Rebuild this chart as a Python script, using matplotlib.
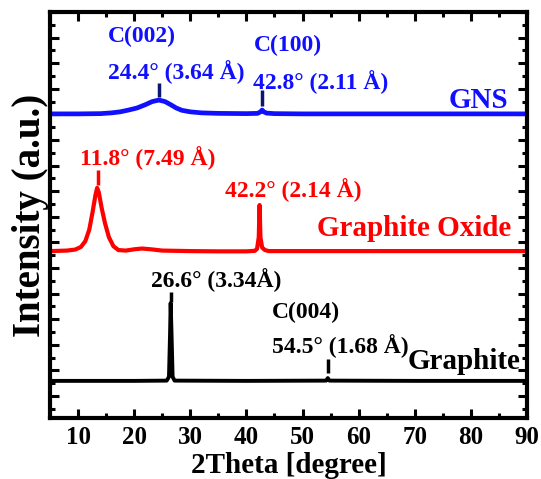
import matplotlib
matplotlib.use("Agg")
import matplotlib.pyplot as plt
from matplotlib.ticker import MultipleLocator

plt.rcParams['font.family'] = ['Liberation Serif', 'DejaVu Serif']
plt.rcParams['font.weight'] = 'bold'

# ---- data (2theta in degrees, stacked intensity in a.u.) ----
gns_x = [5, 10, 14, 16, 17.5, 19, 20.5, 22, 23.2, 24.4, 25.5, 26.5, 27.5, 28.5, 30, 32, 35,
         40, 42, 42.5, 42.8, 43.1, 43.6, 45, 50, 60, 70, 80, 90]
gns_y = [11.02, 11.02, 11.03, 11.06, 11.10, 11.17, 11.25, 11.38, 11.50, 11.56, 11.50, 11.38,
         11.25, 11.16, 11.10, 11.06, 11.04, 11.03, 11.04, 11.10, 11.17, 11.10, 11.05, 11.03,
         11.02, 11.02, 11.02, 11.02, 11.02]

go_x = [5, 8, 9.5, 10.5, 11.3, 12, 12.6, 13.1, 13.4, 13.7, 14.2, 14.8, 15.5, 16.3, 17.2, 18.5,
        20, 21.4, 23, 25, 30, 35, 40, 41.5, 41.9, 42.2, 42.35, 42.5, 42.8, 43.3, 44, 50, 60, 70,
        80, 90]
go_y = [5.66, 5.68, 5.72, 5.82, 6.05, 6.5, 7.2, 7.85, 8.13, 7.95, 7.35, 6.75, 6.2, 5.85, 5.70,
        5.68, 5.73, 5.76, 5.73, 5.68, 5.66, 5.65, 5.65, 5.67, 5.75, 6.2, 7.46, 6.2, 5.80, 5.70,
        5.66, 5.66, 5.66, 5.66, 5.66, 5.66]

gr_x = [5, 20, 25.8, 26.2, 26.4, 26.5, 26.65, 26.85, 27.2, 40, 54.2, 54.5, 54.8, 70, 90]
gr_y = [0.59, 0.59, 0.60, 0.75, 2.5, 3.63, 2.5, 0.75, 0.60, 0.59, 0.60, 0.70, 0.60, 0.59, 0.59]

# peak marker ticks: x, ymin, ymax
mark_x = [24.4, 42.8, 13.5, 26.5, 54.5]
mark_y0 = [11.68, 11.33, 8.24, 3.67, 0.90]
mark_y1 = [12.23, 11.95, 8.83, 4.06, 1.45]
mark_c = ['#0a1670', '#0a1670', '#ff0000', '#000000', '#000000']

x_ticks = [10, 20, 30, 40, 50, 60, 70, 80, 90]

labels = ['C(002)', '24.4° (3.64 Å)', 'C(100)', '42.8° (2.11 Å)',
          '11.8° (7.49 Å)', '42.2° (2.14 Å)', '26.6° (3.34Å)', 'C(004)', '54.5° (1.68 Å)']
label_colors = ['#1010ff'] * 4 + ['#ff0000'] * 2 + ['#000000'] * 3
series_names = ['GNS', 'Graphite Oxide', 'Graphite']

BLUE = '#1010ff'
RED = '#ff0000'
BLACK = '#000000'

fig = plt.figure(figsize=(5.41, 4.79), dpi=100)
ax = fig.add_axes([50/541, 1-418/479, 477/541, 406/479])

ax.plot(gns_x, gns_y, color=BLUE, lw=3.4, solid_joinstyle='round')
ax.plot(go_x, go_y, color=RED, lw=3.0, solid_joinstyle='round')
ax.plot(gr_x, gr_y, color=BLACK, lw=2.8, solid_joinstyle='round')
ax.vlines(mark_x, mark_y0, mark_y1, colors=mark_c, lw=2.5)

ax.set_xlim(5, 90)
ax.set_ylim(-0.86, 15.0)
ax.xaxis.set_major_locator(MultipleLocator(10))
ax.xaxis.set_minor_locator(MultipleLocator(5))
ax.yaxis.set_major_locator(MultipleLocator(1))
ax.yaxis.set_minor_locator(MultipleLocator(0.5))
ax.set_xticks(x_ticks)
ax.set_yticklabels([])
ax.tick_params(which='both', direction='in', top=True, right=True, width=2.2)
ax.tick_params(which='major', length=6.5)
ax.tick_params(which='minor', length=3.5)
ax.tick_params(axis='x', labelsize=18, pad=6)
ax.tick_params(axis='y', labelleft=False)
for lab in ax.get_xticklabels():
    lab.set_fontweight('bold')
for s in ax.spines.values():
    s.set_linewidth(3)

ax.set_xlabel('2Theta [degree]', fontsize=21, fontweight='bold', labelpad=2)
ax.set_ylabel('Intensity (a.u.)', fontsize=28, fontweight='bold', labelpad=-3)

pos = [(15.33, 14.06), (15.33, 12.66), (41.35, 13.71), (41.17, 12.27),
       (10.35, 9.30), (36.19, 8.05), (23.02, 4.53), (44.56, 3.28), (44.56, 1.95)]
for t, c, (x, y) in zip(labels, label_colors, pos):
    ax.text(x, y, t, color=c, fontsize=17, fontweight='bold', ha='left', va='center')

ax.text(86.69, 11.56, series_names[0], color=BLUE, fontsize=21, fontweight='bold',
        ha='right', va='center')
ax.text(87.22, 6.56, series_names[1], color=RED, fontsize=21, fontweight='bold',
        ha='right', va='center')
ax.text(68.79, 1.33, series_names[2], color=BLACK, fontsize=21, fontweight='bold',
        ha='left', va='center')

fig.savefig('out.png', dpi=100)
